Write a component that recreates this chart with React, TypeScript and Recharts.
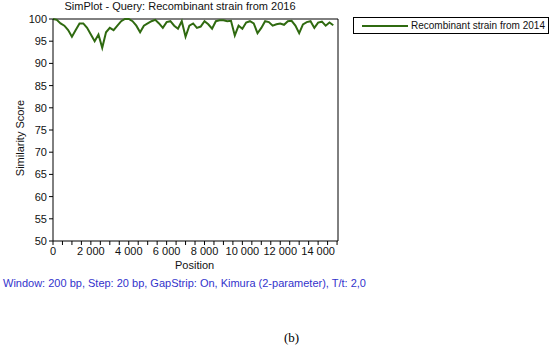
import { Line, LineChart, ReferenceLine, XAxis, YAxis } from "recharts"

// similarity scores, one every 200 bp
const positions = Array.from({ length: 75 }, (_, i) => i * 200)
const scores = [
  100, 99.8, 99, 98.5, 97.5, 96, 97.5, 99, 99, 98,
  96.5, 95, 96.5, 93.5, 97, 98, 97.5, 98.5, 99.5, 100,
  100, 99.5, 98.5, 97, 98.5, 99, 99.5, 99.8, 99, 98,
  99.3, 99.5, 98.5, 97.8, 99.5, 96, 98.5, 99, 98, 98.3,
  99.5, 98.8, 97.8, 99.5, 99.7, 99.7, 99.5, 99.6, 96.3, 98.5,
  97.8, 99.2, 99.5, 99, 96.8, 98, 99.5, 99.3, 98.5, 98.8,
  99, 98.7, 99.5, 99.6, 98.5, 96.8, 98.8, 99.3, 99.5, 98,
  99.2, 99.4, 98.5, 99.2, 98.6,
]
const yTicks = [50, 55, 60, 65, 70, 75, 80, 85, 90, 95, 100]
const xTicks = Array.from({ length: 31 }, (_, i) => i * 500)
const seriesName = "Recombinant strain from 2014"

const data = positions.map((p, i) => ({ pos: p, score: scores[i] }))

const font = "'Liberation Sans', Arial, sans-serif"
const xMax = 15050

const fmt = (v: number) => {
  if (v % 2000 !== 0 || v > 14000) return ""
  return v >= 1000 ? `${Math.floor(v / 1000)} ${String(v % 1000).padStart(3, "0")}` : String(v)
}

export default function App() {
  return (
    <div style={{ position: "absolute", left: 0, top: 0, width: 550, height: 345, background: "#fff", fontFamily: font }}>
      <div style={{ position: "absolute", left: 0, width: 360, top: 0, textAlign: "center", fontSize: 11, color: "#111" }}>
        SimPlot - Query: Recombinant strain from 2016
      </div>
      <LineChart width={550} height={345} data={data} margin={{ top: 19, right: 212, bottom: 74, left: 0 }}>
        <XAxis
          dataKey="pos"
          type="number"
          domain={[0, xMax]}
          ticks={xTicks}
          interval={0}
          tickFormatter={fmt}
          stroke="#000"
          tick={{ fill: "#111", fontSize: 11, fontFamily: font }}
          tickSize={4}
          height={30}
        />
        <YAxis
          type="number"
          domain={[50, 100]}
          ticks={yTicks}
          interval={0}
          stroke="#000"
          tick={{ fill: "#111", fontSize: 11, fontFamily: font }}
          tickSize={4}
          width={53}
        />
        <ReferenceLine y={100} stroke="#000" />
        <ReferenceLine x={xMax} stroke="#000" />
        <Line
          type="linear"
          dataKey="score"
          stroke="#2f6a10"
          strokeWidth={2}
          dot={false}
          isAnimationActive={false}
        />
      </LineChart>
      <div
        style={{
          position: "absolute",
          left: 353,
          top: 17,
          width: 194,
          height: 15,
          border: "1px solid #000",
          display: "flex",
          alignItems: "center",
          fontSize: 10,
          color: "#111",
          whiteSpace: "nowrap",
        }}
      >
        <div style={{ width: 46, height: 2, background: "#2f6a10", marginLeft: 8, marginRight: 3, flexShrink: 0 }} />
        <span>{seriesName}</span>
      </div>
      <div
        style={{
          position: "absolute",
          left: 20,
          top: 138,
          transform: "translate(-50%, -50%) rotate(-90deg)",
          fontSize: 11,
          color: "#111",
          whiteSpace: "nowrap",
        }}
      >
        Similarity Score
      </div>
      <div style={{ position: "absolute", left: 175, top: 259, fontSize: 11, color: "#111" }}>Position</div>
      <div style={{ position: "absolute", left: 3, top: 277, fontSize: 11, color: "#3333cc", whiteSpace: "nowrap" }}>
        Window: 200 bp, Step: 20 bp, GapStrip: On, Kimura (2-parameter), T/t: 2,0
      </div>
      <div style={{ position: "absolute", left: 284, top: 330, fontSize: 13, fontFamily: "'Liberation Serif', serif", color: "#000" }}>
        (b)
      </div>
    </div>
  )
}
